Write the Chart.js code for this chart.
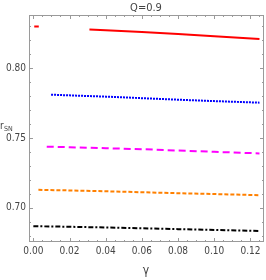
<!DOCTYPE html>
<html>
<head>
<meta charset="utf-8">
<script src="https://cdn.jsdelivr.net/npm/chart.js@4"></script>
<style>
  html, body { margin: 0; padding: 0; background: #fff; }
  #wrap { width: 266px; height: 280px; }
</style>
</head>
<body>
<div id="wrap"><canvas id="chart"></canvas></div>
<script>
  // gamma values and r_SN readings for each curve (null = gap in the curve)
  const gammaRed = [0.0005, 0.003, 0.004, 0.031, 0.04, 0.06, 0.08, 0.10, 0.125];
  const rsnRed = [0.8298, 0.8298, null, 0.8277, 0.8271, 0.8259, 0.8244, 0.8228, 0.8208];

  const gammaBlue = [0.0098, 0.02, 0.04, 0.06, 0.08, 0.10, 0.125];
  const rsnBlue = [0.7810, 0.7805, 0.7796, 0.7785, 0.7774, 0.7764, 0.7753];

  const gammaMagenta = [0.0074, 0.02, 0.04, 0.06, 0.08, 0.10, 0.125];
  const rsnMagenta = [0.7438, 0.7434, 0.7427, 0.7420, 0.7410, 0.7401, 0.7390];

  const gammaOrange = [0.0028, 0.02, 0.04, 0.06, 0.08, 0.10, 0.125];
  const rsnOrange = [0.7129, 0.7125, 0.7119, 0.7112, 0.7105, 0.7099, 0.7091];

  const gammaBlack = [0.0, 0.02, 0.04, 0.06, 0.08, 0.10, 0.125];
  const rsnBlack = [0.6869, 0.6865, 0.6860, 0.6854, 0.6848, 0.6842, 0.6835];

  const xTicks = [0.00, 0.02, 0.04, 0.06, 0.08, 0.10, 0.12];
  const yTicks = [0.70, 0.75, 0.80];

  const labelFont = "'Liberation Sans Narrow', 'DejaVu Sans Condensed', sans-serif";
  const frameColor = "#9a9a9a";
  const textColor = "#444444";

  function pts(xs, ys) {
    return xs.map(function (x, i) { return { x: x, y: ys[i] }; });
  }

  function series(xs, ys, color, dash) {
    return {
      data: pts(xs, ys),
      borderColor: color,
      borderWidth: 2,
      borderDash: dash,
      pointRadius: 0,
      tension: 0,
      spanGaps: false,
      fill: false
    };
  }

  const framePlugin = {
    id: "frame",
    afterDraw: function (chart) {
      const ctx = chart.ctx;
      const a = chart.chartArea;
      const xs = chart.scales.x;
      const ys = chart.scales.y;
      ctx.save();
      ctx.strokeStyle = frameColor;
      ctx.lineWidth = 1;
      ctx.strokeRect(a.left + 0.5, a.top + 0.5, a.right - a.left - 1, a.bottom - a.top - 1);

      ctx.beginPath();
      for (let i = 0; i <= 25; i++) {
        const v = i * 0.005;
        const px = Math.round(xs.getPixelForValue(v)) + 0.5;
        const len = i % 4 === 0 ? 4 : 2;
        ctx.moveTo(px, a.bottom); ctx.lineTo(px, a.bottom - len);
        ctx.moveTo(px, a.top); ctx.lineTo(px, a.top + len);
      }
      for (let i = 68; i <= 83; i++) {
        const v = i * 0.01;
        const py = Math.round(ys.getPixelForValue(v)) + 0.5;
        const len = i % 5 === 0 ? 4 : 2;
        ctx.moveTo(a.left, py); ctx.lineTo(a.left + len, py);
        ctx.moveTo(a.right, py); ctx.lineTo(a.right - len, py);
      }
      ctx.stroke();

      ctx.fillStyle = textColor;
      ctx.textBaseline = "middle";
      ctx.textAlign = "center";
      ctx.font = "11px " + labelFont;
      ctx.fillText("Q=0.9", 146, 8);
      ctx.font = "12px " + labelFont;
      ctx.fillText("\u03b3", 146, 271);
      ctx.textAlign = "left";
      ctx.font = "10px " + labelFont;
      ctx.fillText("r", 0, 126);
      ctx.font = "7px " + labelFont;
      ctx.fillText("SN", 4, 129);
      ctx.restore();
    }
  };

  new Chart(document.getElementById("chart"), {
    type: "line",
    data: {
      datasets: [
        series(gammaRed, rsnRed, "#ff0000", []),
        series(gammaBlue, rsnBlue, "#0000ff", [2, 1]),
        series(gammaMagenta, rsnMagenta, "#ff00ff", [7, 4]),
        series(gammaOrange, rsnOrange, "#ff8000", [4, 2]),
        series(gammaBlack, rsnBlack, "#000000", [5, 2, 2, 2])
      ]
    },
    options: {
      responsive: true,
      maintainAspectRatio: false,
      animation: false,
      layout: { padding: { top: 15, right: 2, left: 0, bottom: 0 } },
      plugins: { legend: { display: false }, tooltip: { enabled: false } },
      scales: {
        x: {
          type: "linear",
          min: -0.0024,
          max: 0.1275,
          afterBuildTicks: function (s) { s.ticks = xTicks.map(function (v) { return { value: v }; }); },
          afterFit: function (s) { s.height = 38; },
          ticks: {
            padding: 3,
            color: textColor,
            font: { family: labelFont, size: 10 },
            maxRotation: 0,
            callback: function (v) { return Number(v).toFixed(2); }
          },
          grid: { display: false, drawTicks: false },
          border: { display: false }
        },
        y: {
          min: 0.6756,
          max: 0.838,
          afterBuildTicks: function (s) { s.ticks = yTicks.map(function (v) { return { value: v }; }); },
          afterFit: function (s) { s.width = 29; },
          ticks: {
            padding: 3,
            color: textColor,
            font: { family: labelFont, size: 10 },
            callback: function (v) { return Number(v).toFixed(2); }
          },
          grid: { display: false, drawTicks: false },
          border: { display: false }
        }
      }
    },
    plugins: [framePlugin]
  });
</script>
</body>
</html>
